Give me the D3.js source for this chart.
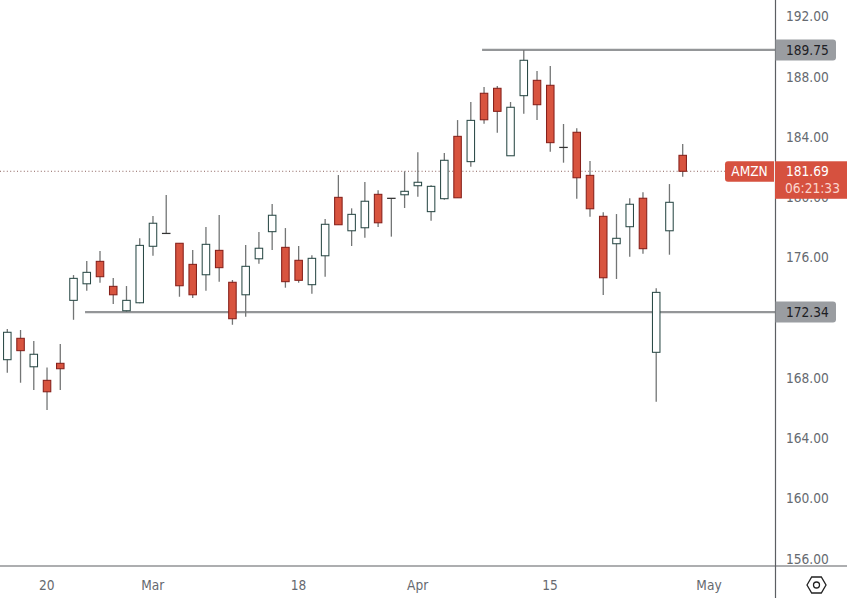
<!DOCTYPE html>
<html><head><meta charset="utf-8">
<script src="https://cdnjs.cloudflare.com/ajax/libs/d3/7.8.5/d3.min.js"></script>
<style>html,body{margin:0;padding:0;background:#fff}svg{display:block}
text{font-family:"DejaVu Sans Condensed","DejaVu Sans",sans-serif}</style></head><body>
<svg id="c" width="847" height="598"></svg>
<script>
const opens =[169.18,170.60,168.71,167.81,168.94,173.12,174.22,175.71,174.05,172.43,172.96,176.71,177.57,176.91,175.51,174.82,176.44,174.32,173.49,175.88,177.68,176.64,175.78,174.16,176.08,179.96,177.74,177.94,180.16,179.90,180.13,180.73,179.01,179.87,184.01,182.33,186.87,187.20,182.72,186.71,187.73,187.40,183.28,184.28,181.42,178.70,176.88,178.01,179.90,169.67,177.74,182.75];
const highs =[171.22,171.15,170.42,168.67,170.22,174.80,175.73,176.40,174.60,174.07,177.24,178.72,180.11,176.91,176.46,177.99,178.79,174.47,176.79,177.66,179.52,177.92,176.73,176.11,178.52,181.44,179.23,180.98,180.43,179.90,181.69,182.95,180.76,182.90,185.09,186.29,187.29,187.35,186.29,189.74,188.35,188.68,184.83,184.54,182.37,178.97,178.85,179.90,180.29,173.92,180.84,183.50];
const lows  =[168.31,167.65,167.17,165.84,167.17,171.83,173.76,174.29,172.88,172.35,172.92,176.08,177.55,173.36,173.27,173.76,174.36,171.50,172.03,175.55,176.46,173.96,174.29,173.56,174.69,178.14,176.73,177.28,177.99,177.35,179.25,180.00,178.41,179.80,179.93,181.99,184.85,184.25,182.72,185.51,185.09,182.99,182.26,179.87,178.67,173.47,174.54,176.02,176.22,166.39,176.15,181.33];
const closes=[171.00,169.78,169.54,167.05,168.58,174.58,174.98,174.69,173.49,173.12,176.77,178.24,177.57,174.09,173.49,176.84,175.29,171.90,175.38,176.58,178.77,174.36,174.45,175.91,178.17,178.14,178.83,179.70,178.27,179.90,180.36,180.96,180.69,182.42,179.93,185.07,185.11,185.67,185.94,189.06,186.11,183.59,183.28,181.26,179.20,174.62,177.24,179.50,176.55,173.65,179.63,181.69];
const priceTicks=[192,188,184,180,176,172,168,164,160,156];
const timeTickIndex=[3,11,22,31,41,53];
const timeTickLabels=["20","Mar","18","Apr","15","May"];
const levels=[{v:189.75,from:35.85},{v:172.34,from:5.87}];
const lastPrice=181.69, symbol="AMZN", countdown="06:21:33";

const W=847,H=598,axisX=775.5,axisY=566;
const svg=d3.select("#c");
const y=d3.scaleLinear().domain([192,156]).range([16,558.2]);
const x=d3.scaleLinear().domain([0,51]).range([7.3,682.7]);
const bw=7.5;
const fs=13.6;
const labelColor="#666a70";

// price tick labels
const yAxis=d3.axisRight(y).tickValues(priceTicks.filter(t=>t!==172)).tickSize(0).tickPadding(0).tickFormat(d=>d.toFixed(2));
const gy=svg.append("g").attr("transform",`translate(${axisX+10.5},0)`).call(yAxis);
gy.select(".domain").remove();
gy.selectAll("text").attr("fill",labelColor).attr("font-size",fs).attr("dy","0.36em");

// time tick labels
const xAxis=d3.axisBottom(x).tickValues(timeTickIndex).tickSize(0).tickPadding(0).tickFormat((d,i)=>timeTickLabels[i]);
const gx=svg.append("g").attr("transform",`translate(-0.7,${axisY+14})`).call(xAxis);
gx.select(".domain").remove();
gx.selectAll("text").attr("fill",labelColor).attr("font-size",fs).attr("dy","0.71em");

// last price dotted line
svg.append("line").attr("x1",0).attr("x2",726).attr("y1",y(lastPrice)).attr("y2",y(lastPrice))
  .attr("stroke","#8a5f5a").attr("stroke-width",1).attr("stroke-dasharray","1 2.4");

// horizontal levels
svg.selectAll(".lvl").data(levels).join("line").attr("class","lvl")
  .attr("x1",d=>x(d.from)).attr("x2",axisX).attr("y1",d=>y(d.v)).attr("y2",d=>y(d.v))
  .attr("stroke","#949698").attr("stroke-width",2.2);

// candles
const idx=d3.range(opens.length);
const g=svg.append("g");
g.selectAll(".wick").data(idx).join("line").attr("class","wick")
  .attr("x1",i=>x(i)).attr("x2",i=>x(i)).attr("y1",i=>y(highs[i])).attr("y2",i=>y(lows[i]))
  .attr("stroke","#737575").attr("stroke-width",1.3);
g.selectAll(".body").data(idx).join("rect").attr("class","body")
  .attr("x",i=>x(i)-bw/2).attr("width",bw)
  .attr("y",i=>y(Math.max(opens[i],closes[i])))
  .attr("height",i=>Math.max(0.2,Math.abs(y(opens[i])-y(closes[i]))))
  .attr("fill",i=>closes[i]<opens[i]?"#d8543f":"#ffffff")
  .attr("stroke",i=>closes[i]<opens[i]?"#86201a":(closes[i]===opens[i]?"#333":"#2b4a47"))
  .attr("stroke-width",1.05);

// axis lines
svg.append("line").attr("x1",axisX).attr("x2",axisX).attr("y1",0).attr("y2",H).attr("stroke","#5c5f63").attr("stroke-width",1.2);
svg.append("line").attr("x1",0).attr("x2",W).attr("y1",axisY).attr("y2",axisY).attr("stroke","#5c5f63").attr("stroke-width",1.2);

// level tags
levels.forEach(l=>{
  const c=y(l.v);
  svg.append("path").attr("d",`M${axisX},${c-10.5}H833a3,3 0 0 1 3,3V${c+7.5}a3,3 0 0 1 -3,3H${axisX}Z`).attr("fill","#9a9da1");
  svg.append("text").attr("x",786).attr("y",c).attr("dy","0.37em").attr("font-size",fs).attr("fill","#1d2024").text(l.v.toFixed(2));
});

// symbol + price tags
const cy=y(lastPrice);
svg.append("path").attr("d",`M728,${cy-10}H774V${cy+10.5}H728a3,3 0 0 1 -3,-3V${cy-7}a3,3 0 0 1 3,-3Z`).attr("fill","#d6513f");
svg.append("text").attr("x",749.5).attr("y",cy).attr("dy","0.37em").attr("text-anchor","middle").attr("font-size",fs).attr("fill","#fff").text(symbol);
svg.append("rect").attr("x",axisX-0.5).attr("y",cy-10).attr("width",W-axisX+0.5).attr("height",37.5).attr("fill","#d6513f");
svg.append("text").attr("x",786).attr("y",cy).attr("dy","0.37em").attr("font-size",fs).attr("fill","#fff").text(lastPrice.toFixed(2));
svg.append("text").attr("x",785).attr("y",cy+17).attr("dy","0.37em").attr("font-size",fs).attr("fill","#fbd5cd").text(countdown);

// settings icon
const ic=svg.append("g").attr("transform","translate(816.5,585)").attr("fill","none").attr("stroke","#222").attr("stroke-width",1.3);
ic.append("path").attr("d","M-9.5,0L-4.8,-8H4.8L9.5,0L4.8,8H-4.8Z");
ic.append("circle").attr("r",3);
</script></body></html>
